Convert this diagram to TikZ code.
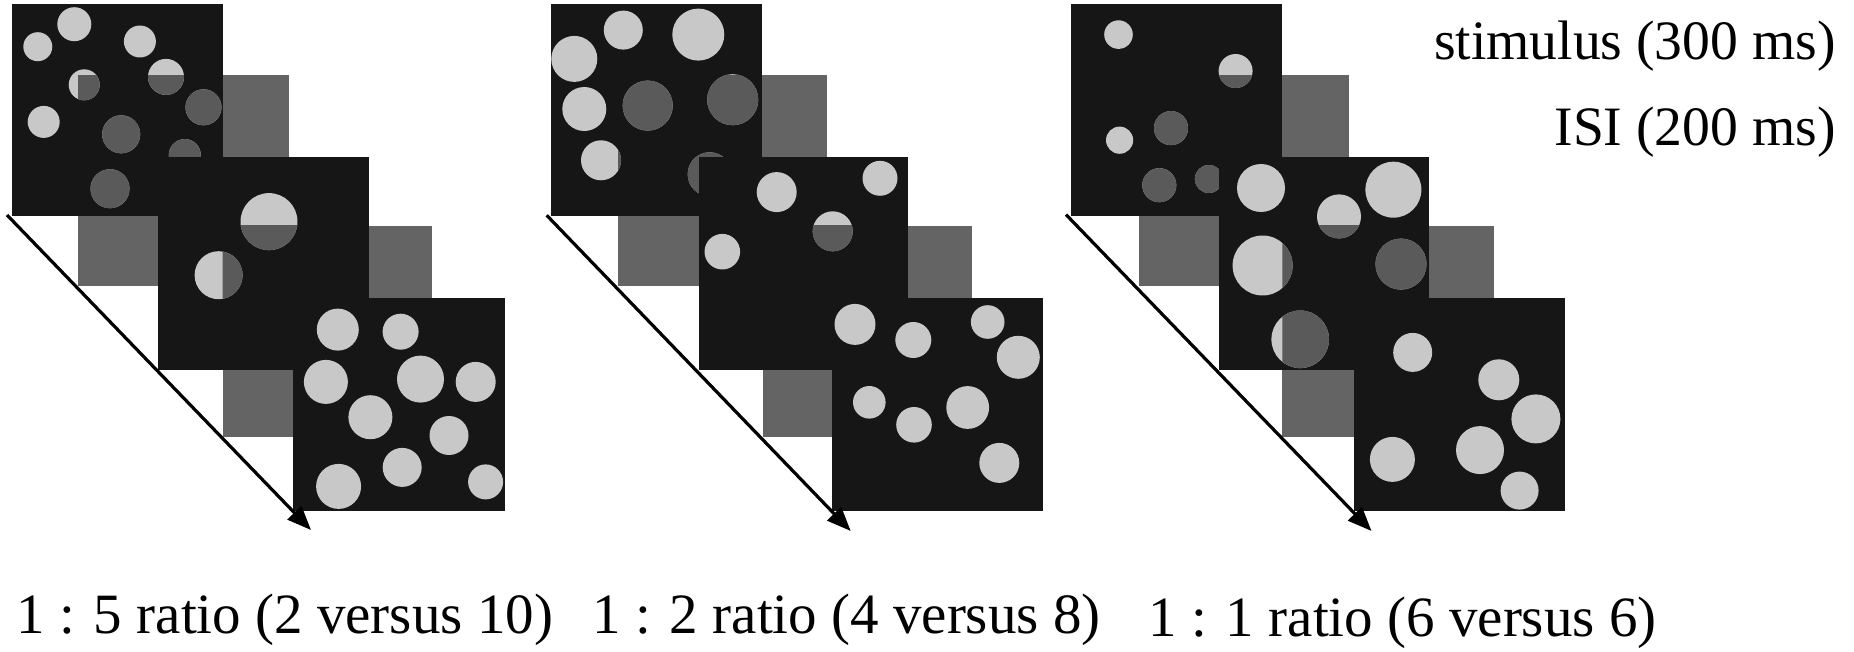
\documentclass[tikz,border=0pt]{standalone}
\usepackage{fontspec}
\setmainfont{Liberation Serif}
\newfontfamily\timesface{Liberation Serif}
\usetikzlibrary{arrows.meta}
\definecolor{stimbg}{HTML}{161616}
\definecolor{dotlight}{HTML}{C8C8C8}
\definecolor{isigray}{HTML}{646464}
\definecolor{dotdark}{HTML}{5A5A5A}
\tikzset{
  stimbox/.style={fill=stimbg},
  isibox/.style={fill=isigray},
  lightdot/.style={fill=dotlight},
  darkdot/.style={fill=dotdark},
  timearrow/.style={draw=black, line width=1.6pt, -{Triangle[length=12pt,width=9.5pt]}},
  lbl/.style={inner sep=0pt, font=\timesface\fontsize{28.5}{34}\selectfont},
  keylbl/.style={inner sep=0pt, font=\timesface\fontsize{27.8}{33}\selectfont}
}
\newcommand{\stimdots}[1]{\foreach \cx/\cy/\cr in #1 {\fill (\cx,\cy) circle (\cr);}}
% light dots, then the part under the ISI square darkened
\newcommand{\dotset}[2]{%
  \begin{scope}[lightdot]\stimdots{#1}\end{scope}%
  \begin{scope}\clip #2;\begin{scope}[darkdot]\stimdots{#1}\end{scope}\end{scope}}
\begin{document}
\begin{tikzpicture}[x=0.5pt,y=-0.5pt]
\useasboundingbox (0,0) rectangle (1854,652);

% ---------------- panel 1: 1:5 ----------------
\fill[isibox] (78,75.5) rectangle (288.5,286);
\fill[isibox] (222.5,226) rectangle (432.4,437);
\fill[stimbox] (12,4.5) rectangle (223,216.4);
\def\pa{74.3/24.2/17, 37.8/46.7/14.5, 139.9/41.5/16, 84.2/84.8/15.5, 166/76.9/18, 203.5/107.3/18, 43.7/121.9/16, 121.2/134.3/19, 184.8/155.1/16, 110/188.7/19.5}
\dotset{\pa}{(78,75.5) rectangle (288.5,286)}
\fill[stimbox] (158,157.5) rectangle (369,370);
\def\pb{269/221.6/28.5, 218.6/275.2/24}
\dotset{\pb}{(222.5,226) rectangle (432.4,437)}
\fill[stimbox] (293,298.4) rectangle (505,510.6);
\def\pc{337.8/329.6/21, 400.6/331.7/18, 325.9/381.9/22, 420.5/379.1/23.5, 475.7/381.9/20, 370.4/417.2/22, 449/435.5/19.5, 402.2/467.4/19.5, 338.6/486.4/22.5, 485.6/481.9/17.5}
\begin{scope}[lightdot]\stimdots{\pc}\end{scope}

% ---------------- panel 2: 1:2 ----------------
\fill[isibox] (618,75.5) rectangle (827,286);
\fill[isibox] (763,226) rectangle (972,437);
\fill[stimbox] (551,4.5) rectangle (762,216.4);
\def\qa{623.3/30.1/19.5, 698.3/34.6/26, 574.3/58.9/23, 584.3/109/22, 647.7/105.6/25, 732.7/99.7/25.5, 601/160.3/20, 709.7/174.3/22}
\dotset{\qa}{(618,75.5) rectangle (827,286)}
\fill[stimbox] (699,157.5) rectangle (908,370);
\def\qb{776.7/192.1/20, 880/178.3/17.5, 832.7/231.3/20, 722.3/251.7/17.8}
\dotset{\qb}{(763,226) rectangle (972,437)}
\fill[stimbox] (832,298.4) rectangle (1043,510.6);
\def\qc{855/324.4/20.5, 913.3/340/18, 987.7/322/16.8, 1018.3/357.3/21.5, 869.3/402.3/16.3, 914/424.8/17.8, 967.7/407.5/21.4, 999.3/462.9/20}
\begin{scope}[lightdot]\stimdots{\qc}\end{scope}

% ---------------- panel 3: 1:1 ----------------
\fill[isibox] (1139,75.5) rectangle (1349,286);
\fill[isibox] (1282.4,226) rectangle (1494,437);
\fill[stimbox] (1071,4.5) rectangle (1282.4,216.4);
\def\ra{1118.5/34.6/14.3, 1235.6/71/17, 1171/128.1/17, 1119.6/140.2/13.6, 1159.3/185.2/17, 1208.9/179/14}
\dotset{\ra}{(1139,75.5) rectangle (1349,286)}
\fill[stimbox] (1219,157.5) rectangle (1429,370);
\def\rb{1261/188/24, 1393.4/189.7/28, 1339/216.4/22, 1262.6/265.5/30, 1401/264.1/25.5, 1300.2/339.3/28.8}
\dotset{\rb}{(1282.4,226) rectangle (1494,437)}
\fill[stimbox] (1354,298.4) rectangle (1565,510.6);
\def\rc{1412.7/352.4/19.5, 1498.8/379.8/20.5, 1535.9/418.9/24.5, 1480/450.1/24, 1392.4/459.4/22.5, 1519.6/490.6/19}
\begin{scope}[lightdot]\stimdots{\rc}\end{scope}

% ---------------- time arrows ----------------
\coordinate (t1s) at (7,215);
\coordinate (t1e) at (311,530);
\coordinate (t2s) at (546.7,215.3);
\coordinate (t2e) at (850.7,531);
\coordinate (t3s) at (1066,214.6);
\coordinate (t3e) at (1371.5,531);
\draw[timearrow] (t1s) -- (t1e);
\draw[timearrow] (t2s) -- (t2e);
\draw[timearrow] (t3s) -- (t3e);

% ---------------- labels ----------------
\node[keylbl, anchor=base east] (stimlbl) at (1836,60) {stimulus (300 ms)};
\node[keylbl, anchor=base east] (isilbl) at (1836,146) {ISI (200 ms)};
\node[lbl, anchor=base west] (ratio1) at (16,633) {1 : 5 ratio (2 versus 10)};
\node[lbl, anchor=base west] (ratio2) at (592,633) {1 : 2 ratio (4 versus 8)};
\node[lbl, anchor=base west] (ratio3) at (1148,636) {1 : 1 ratio (6 versus 6)};
\end{tikzpicture}
\end{document}
